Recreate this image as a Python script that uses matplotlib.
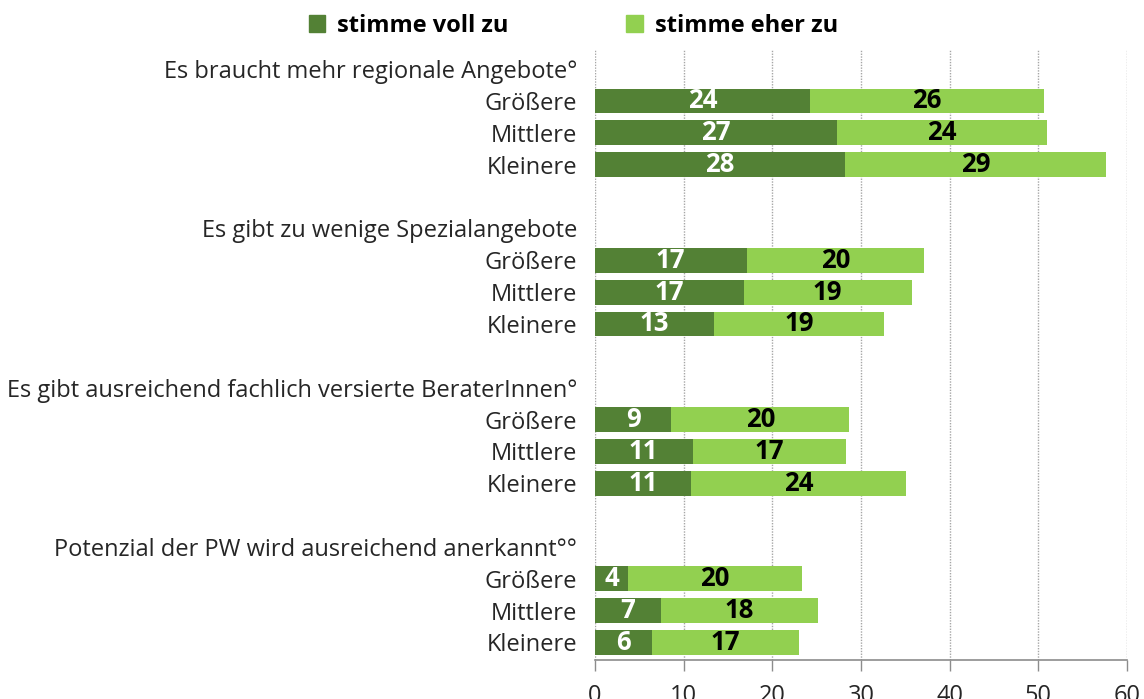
import numpy as np
import matplotlib
matplotlib.use("Agg")
import matplotlib.pyplot as plt
from matplotlib.patches import Patch

plt.rcParams['font.family'] = ['Open Sans', 'DejaVu Sans']

# data
statements = [
    "Es braucht mehr regionale Angebote°",
    "Es gibt zu wenige Spezialangebote",
    "Es gibt ausreichend fachlich versierte BeraterInnen°",
    "Potenzial der PW wird ausreichend anerkannt°°",
]
groups = ["Größere", "Mittlere", "Kleinere"]
voll = [24.3, 27.3, 28.2,
        17.1, 16.8, 13.4,
        8.6, 11.0, 10.8,
        3.7, 7.4, 6.4]
eher = [26.3, 23.7, 29.4,
        20.0, 18.9, 19.2,
        20.1, 17.3, 24.3,
        19.6, 17.8, 16.6]
series_names = ["stimme voll zu", "stimme eher zu"]
col_voll = "#538135"
col_eher = "#92D050"

# layout: header row, three bars, blank row per statement
ypos = []
ylabels = []
yticks = []
for i, st in enumerate(statements):
    base = i * 5
    yticks.append(base)
    ylabels.append(st)
    for j, g in enumerate(groups):
        ypos.append(base + 1 + j)
        yticks.append(base + 1 + j)
        ylabels.append(g)
ypos = np.array(ypos)
voll = np.array(voll)
eher = np.array(eher)

fig = plt.figure(figsize=(11.44, 6.99), dpi=100)
ax = fig.add_axes([595 / 1144, 39 / 699, (1127 - 595) / 1144, (660 - 50) / 699])

ax.barh(ypos, voll, height=0.78, color=col_voll, zorder=3)
ax.barh(ypos, eher, left=voll, height=0.78, color=col_eher, zorder=3)

for y, v, e in zip(ypos, voll, eher):
    ax.text(v / 2, y, f"{round(v):d}", ha="center", va="center",
            color="white", fontsize=18.5, fontweight="bold", zorder=4)
    ax.text(v + e / 2, y, f"{round(e):d}", ha="center", va="center",
            color="black", fontsize=18.5, fontweight="bold", zorder=4)

ax.set_xlim(0, 60)
ax.set_ylim(18.55, -0.6)
ax.set_xticks(np.arange(0, 61, 10))
ax.tick_params(axis="x", labelsize=17, length=8, width=1, color="#8c8c8c",
               labelcolor="#262626", pad=9)
ax.set_yticks(yticks)
ax.set_yticklabels(ylabels, fontsize=17, color="#262626")
ax.tick_params(axis="y", length=0, pad=13)

ax.grid(axis="x", linestyle=(0, (1, 1)), color="#a6a6a6", linewidth=1, zorder=0)
for s in ["top", "right", "left"]:
    ax.spines[s].set_visible(False)
ax.spines["bottom"].set_color("#8c8c8c")
ax.spines["bottom"].set_linewidth(1.2)

handles = [Patch(color=col_voll), Patch(color=col_eher)]
fig.legend(handles, series_names, loc="center", bbox_to_anchor=(0.501, 0.963),
           ncol=2, frameon=False, handlelength=0.7, handleheight=0.7,
           handletextpad=0.5, columnspacing=5.0,
           prop={"size": 17, "weight": "bold"})

fig.savefig("out.png", dpi=100)
